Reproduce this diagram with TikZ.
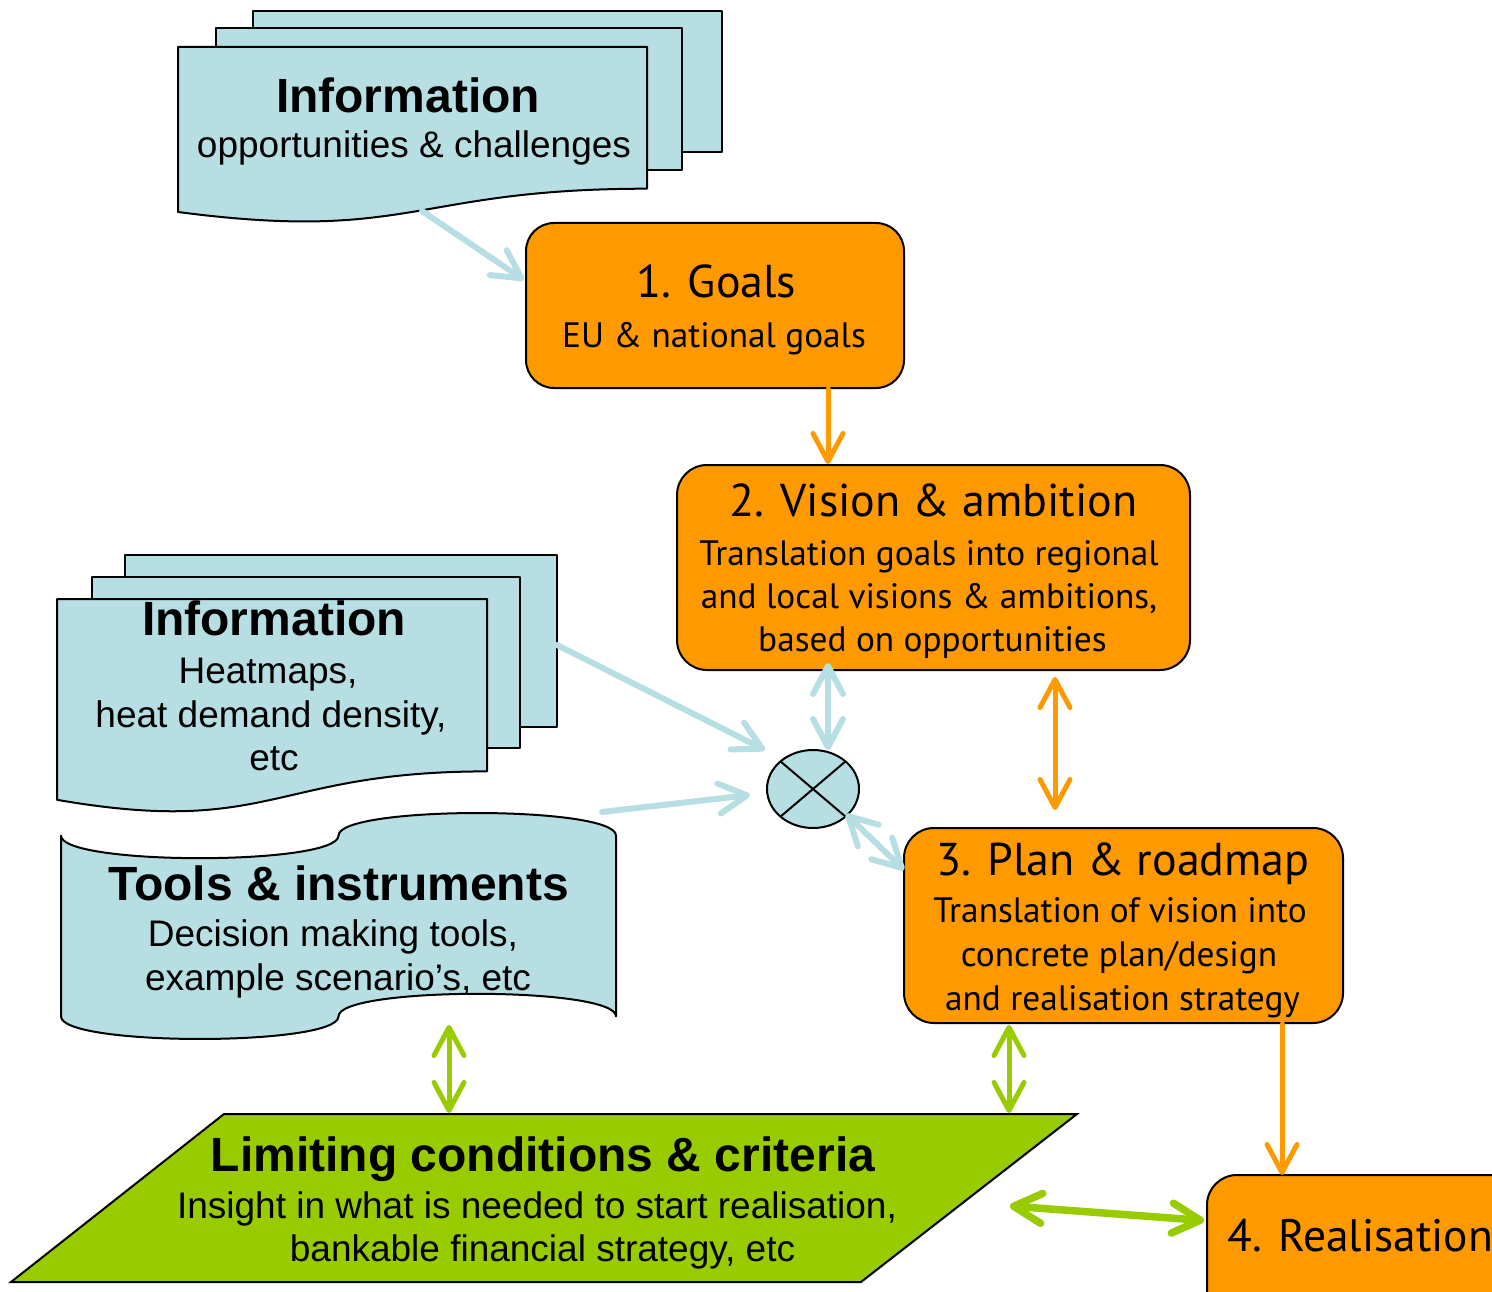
\documentclass[tikz,border=0pt]{standalone}
\usepackage{fontspec}
\setmainfont{Liberation Sans}
\newfontfamily\orfont{PT Sans}
\usetikzlibrary{arrows.meta,shapes.geometric}
\definecolor{lblue}{RGB}{183,222,226}
\definecolor{orng}{RGB}{255,153,0}
\definecolor{lgreen}{RGB}{153,204,0}
\begin{document}
\begin{tikzpicture}[x=1pt,y=-1pt,
  sheet/.style={draw=black, line width=2pt, fill=lblue, line join=round},
  obox/.style={draw=black, line width=2pt, fill=orng, rounded corners=28pt, inner sep=0pt},
  tipb/.tip={Straight Barb[round,length=28pt,width=30pt]},
  barrow/.style={draw=lblue, line width=6pt, line cap=round},
  oarrow/.style={draw=orng, line width=5pt, line cap=round},
  garrow/.style={draw=lgreen, line width=5pt, line cap=round},
  ttl/.style={anchor=base, font=\bfseries\fontsize{48}{50}\selectfont},
  txt/.style={anchor=base, font=\fontsize{37}{44}\selectfont},
  ottl/.style={anchor=base, font=\orfont\fontsize{46}{50}\selectfont},
  otxt/.style={anchor=base, font=\orfont\fontsize{35.3}{40}\selectfont}]
\fill[white] (0,0) rectangle (1492,1292);
\useasboundingbox (0,0) rectangle (1492,1292);

% ---------- top information stack
\draw[sheet] (253,11) rectangle (722,152);
\draw[sheet] (216,28) rectangle (682,170);
\draw[sheet] (178,47) -- (647,47) -- (647,188.7) .. controls (412.5,188.7) and (412.5,242.7) .. (178,212) -- cycle;
\node[ttl] (info1t) at (408,113) {Information};
\node[txt] (info1b) at (414,158) {opportunities \& challenges};

% ---------- middle information stack
\draw[sheet] (125,555) rectangle (557,727);
\draw[sheet] (92,577) rectangle (520,748);
\draw[sheet] (57,599) -- (487,599) -- (487,771.4) .. controls (272,771.4) and (272,837.1) .. (57,799.8) -- cycle;
\node[ttl] (info2t) at (274,635) {Information};
\node[txt] (info2a) at (268,683) {Heatmaps,};
\node[txt] (info2b) at (271,727) {heat demand density,};
\node[txt] (info2c) at (274,770) {etc};

% ---------- tools (punched tape)
\draw[sheet] (61,835.6) .. controls (61,865.7) and (338.5,865.7) .. (338.5,835.6)
  .. controls (338.5,805.5) and (616,805.5) .. (616,835.6) -- (616,1016.4)
  .. controls (616,986.3) and (338.5,986.3) .. (338.5,1016.4)
  .. controls (338.5,1046.5) and (61,1046.5) .. (61,1016.4) -- cycle;
\node[ttl] (toolst) at (338.5,900) {Tools \& instruments};
\node[txt] (toolsa) at (333,946.7) {Decision making tools,};
\node[txt] (toolsb) at (338,990.7) {example scenario’s, etc};

% ---------- green parallelogram
\draw[draw=black, line width=2pt, fill=lgreen, line join=miter] (224,1114) -- (1077,1114) -- (861,1282) -- (11,1282) -- cycle;
\node[ttl] (limt) at (543,1171.7) {Limiting conditions \& criteria};
\node[txt] (lima) at (537,1218) {Insight in what is needed to start realisation,};
\node[txt] (limb) at (542.5,1261.7) {bankable financial strategy, etc};

% ---------- orange boxes
\node[obox, minimum width=378pt, minimum height=165pt] (goals) at (715,305.5) {};
\node[ottl] (goalst) at (716.5,298) {1. Goals};
\node[otxt] (goalsa) at (714,347) {EU \& national goals};

\node[obox, rounded corners=30pt, minimum width=513pt, minimum height=205pt] (vision) at (933.5,567.5) {};
\node[ottl] (visiont) at (933.5,516.7) {2. Vision \& ambition};
\node[otxt] (visiona) at (929,565) {Translation goals into regional};
\node[otxt] (visionb) at (929,608) {and local visions \& ambitions,};
\node[otxt] (visionc) at (932.5,651.7) {based on opportunities};

\node[obox, rounded corners=30pt, minimum width=439pt, minimum height=195pt] (plan) at (1123.5,925.5) {};
\node[ottl] (plant) at (1123,875) {3. Plan \& roadmap};
\node[otxt] (plana) at (1120,922.3) {Translation of vision into};
\node[otxt] (planb) at (1119,966.7) {concrete plan/design};
\node[otxt] (planc) at (1122.5,1010) {and realisation strategy};

\begin{scope}
\clip (0,0) rectangle (1492,1292);
\node[obox, rounded corners=30pt, minimum width=360pt, minimum height=160pt] (real) at (1387,1255) {};
\end{scope}
\node[ottl, anchor=base west, font=\orfont\fontsize{45.5}{50}\selectfont] (realt) at (1224,1251.7) {4. Realisation};

% ---------- cross symbol
\node[draw=black, line width=2pt, fill=lblue, ellipse, inner sep=0pt, minimum width=92pt, minimum height=78pt] (cross) at (813,789) {};
\draw[line width=2pt] (780.5,761.4) -- (845.5,816.6);
\draw[line width=2pt] (845.5,761.4) -- (780.5,816.6);

% ---------- connector end points
\coordinate (c1s) at (422,211);
\coordinate (c1e) at (524,280);
\coordinate (c3s) at (557,645);
\coordinate (c3e) at (765,750);
\coordinate (c4s) at (602,812);
\coordinate (c4e) at (750,795);
\coordinate (c5s) at (828,663);
\coordinate (c5e) at (828,750);
\coordinate (c6s) at (846,814);
\coordinate (c6e) at (904,870);

% ---------- connectors
\draw[barrow, -{tipb}] (c1s) -- (c1e);
\draw[oarrow, -{tipb}] (goals.south -| 828,0) -- (vision.north -| 828,0);
\draw[barrow, -{tipb}] (c3s) -- (c3e);
\draw[barrow, -{tipb}] (c4s) -- (c4e);
\draw[barrow, {tipb}-{tipb}] (c5s) -- (c5e);
\draw[barrow, {tipb}-{tipb}] (c6s) -- (c6e);
\draw[oarrow, {tipb}-{tipb}] (1055,677) coordinate (c7s) -- (1055,810) coordinate (c7e);
\draw[oarrow, -{tipb}] (plan.south -| 1282,0) -- (1282,1175) coordinate (c8e);
\draw[garrow, {tipb}-{tipb}] (449,1025) coordinate (c9s) -- (449,1113) coordinate (c9e);
\draw[garrow, {tipb}-{tipb}] (1009,1025) coordinate (c10s) -- (1009,1113) coordinate (c10e);
\draw[garrow, line width=7.5pt, {tipb}-{tipb}] (1010,1206) coordinate (c11s) -- (1204,1220.5) coordinate (c11e);
\end{tikzpicture}
\end{document}
